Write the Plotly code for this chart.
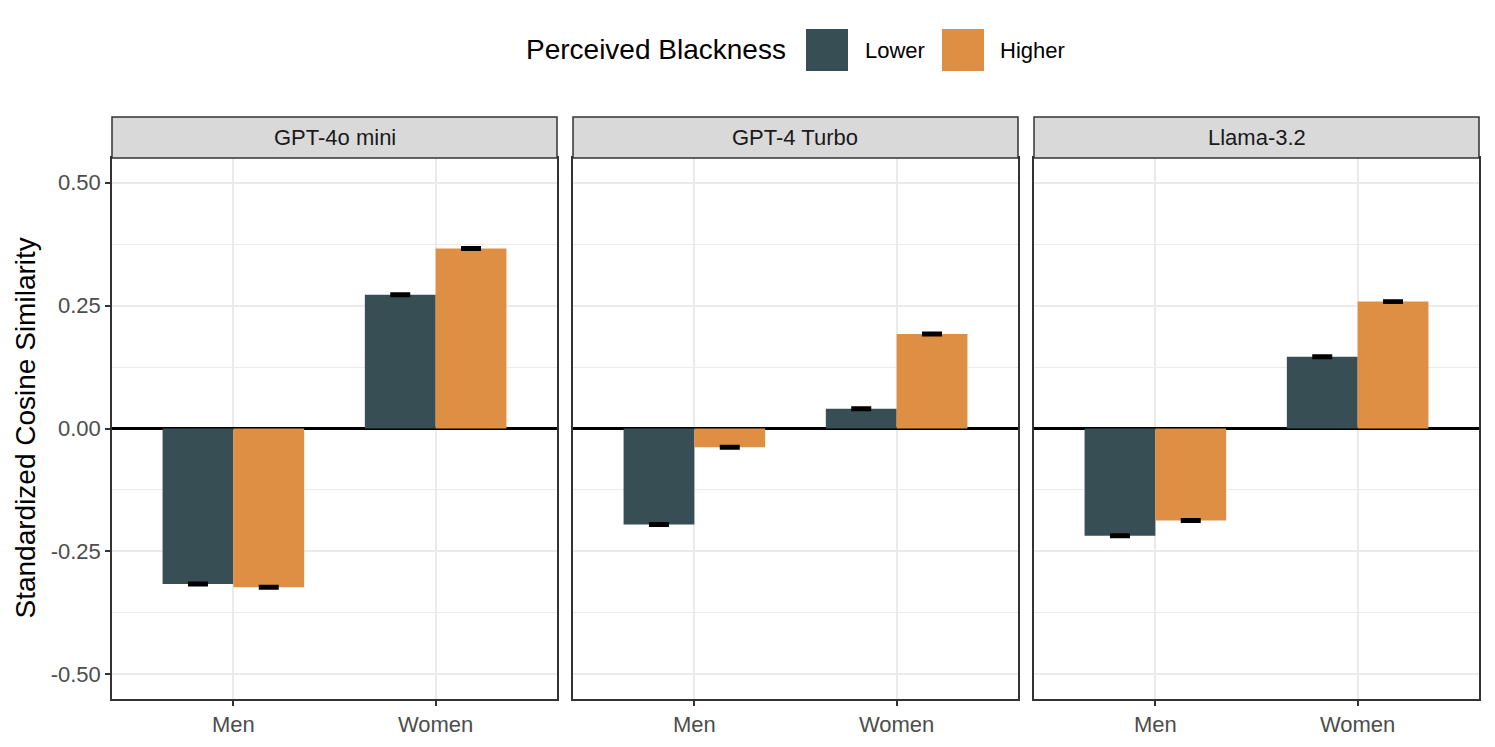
import plotly.graph_objects as go

models = ["GPT-4o mini", "GPT-4 Turbo", "Llama-3.2"]
genders = ["Men", "Women"]
groups = ["Lower", "Higher"]

# values[model] -> [Men, Women]
lower_vals = {
    "GPT-4o mini": [-0.316, 0.272],
    "GPT-4 Turbo": [-0.195, 0.040],
    "Llama-3.2": [-0.218, 0.146],
}
higher_vals = {
    "GPT-4o mini": [-0.323, 0.366],
    "GPT-4 Turbo": [-0.038, 0.192],
    "Llama-3.2": [-0.187, 0.258],
}
lower_err = {
    "GPT-4o mini": [0.002, 0.002],
    "GPT-4 Turbo": [0.002, 0.002],
    "Llama-3.2": [0.002, 0.002],
}
higher_err = {
    "GPT-4o mini": [0.002, 0.002],
    "GPT-4 Turbo": [0.002, 0.002],
    "Llama-3.2": [0.002, 0.002],
}
y_ticks = [-0.5, -0.25, 0.0, 0.25, 0.5]
y_tick_labels = ["-0.50", "-0.25", "0.00", "0.25", "0.50"]

colors = {"Lower": "#374E55", "Higher": "#DF8F44"}
W, H = 1495, 747

panel_px = [(112, 557), (573, 1018), (1034, 1479)]
y_bot_px, y_top_px = 699, 158
strip_top_px = 117

def px_x(p):
    return p / W

def px_y(p):
    return 1 - p / H

fig = go.Figure()

for i, m in enumerate(models):
    xa = "x" if i == 0 else f"x{i+1}"
    ya = "y" if i == 0 else f"y{i+1}"
    for g, vals, errs in (("Lower", lower_vals, lower_err), ("Higher", higher_vals, higher_err)):
        fig.add_trace(go.Bar(
            x=genders, y=vals[m], name=g, xaxis=xa, yaxis=ya,
            marker=dict(color=colors[g], line=dict(width=0)),
            error_y=dict(type="data", array=errs[m], color="black", thickness=3, width=10),
            showlegend=False, offsetgroup=g,
        ))

layout = dict(
    width=W, height=H, margin=dict(l=0, r=0, t=0, b=0),
    paper_bgcolor="white", plot_bgcolor="white",
    barmode="group", bargap=0.3, bargroupgap=0,
    font=dict(family="Liberation Sans, Arial, sans-serif", color="#4D4D4D", size=22),
    showlegend=False,
)

shapes = []
annotations = []
for i, m in enumerate(models):
    xk = "xaxis" if i == 0 else f"xaxis{i+1}"
    yk = "yaxis" if i == 0 else f"yaxis{i+1}"
    x0, x1 = panel_px[i]
    layout[xk] = dict(
        domain=[px_x(x0), px_x(x1)], anchor="y" if i == 0 else f"y{i+1}",
        type="category", range=[-0.6, 1.6],
        showgrid=True, gridcolor="#EBEBEB", gridwidth=2,
        showline=True, mirror=True, linecolor="#333333", linewidth=1.5,
        ticks="outside", ticklen=5, tickwidth=1.5, tickcolor="#333333",
        tickfont=dict(size=22, color="#4D4D4D"), zeroline=False,
    )
    layout[yk] = dict(
        domain=[px_y(y_bot_px), px_y(y_top_px)], anchor="x" if i == 0 else f"x{i+1}",
        range=[-0.55, 0.55], tickvals=y_ticks, ticktext=y_tick_labels,
        showticklabels=(i == 0),
        showgrid=True, gridcolor="#EBEBEB", gridwidth=2,
        minor=dict(dtick=0.125, tick0=0.125, showgrid=True, gridcolor="#EBEBEB", gridwidth=1, ticks=""),
        showline=True, mirror=True, linecolor="#333333", linewidth=1.5,
        ticks="outside" if i == 0 else "", ticklen=5, tickwidth=1.5, tickcolor="#333333",
        tickfont=dict(size=22, color="#4D4D4D"),
        zeroline=True, zerolinecolor="black", zerolinewidth=2.5,
    )
    shapes.append(dict(type="rect", xref="paper", yref="paper",
                       x0=px_x(x0), x1=px_x(x1), y0=px_y(y_top_px), y1=px_y(strip_top_px),
                       fillcolor="#D9D9D9", line=dict(color="#333333", width=1.5), layer="above"))
    annotations.append(dict(xref="paper", yref="paper", x=(px_x(x0) + px_x(x1)) / 2,
                            y=(px_y(y_top_px) + px_y(strip_top_px)) / 2, text=m, showarrow=False,
                            font=dict(size=22, color="#1A1A1A"), xanchor="center", yanchor="middle"))

# y-axis title
annotations.append(dict(xref="paper", yref="paper", x=px_x(25), y=px_y((y_top_px + y_bot_px) / 2),
                        text="Standardized Cosine Similarity", textangle=-90, showarrow=False,
                        font=dict(size=28, color="black"), xanchor="center", yanchor="middle"))

# legend (drawn manually)
annotations.append(dict(xref="paper", yref="paper", x=px_x(524), y=px_y(50), text="Perceived Blackness",
                        showarrow=False, xanchor="left", yanchor="middle", font=dict(size=28, color="black")))
legend_pos = {"Lower": (806, 865), "Higher": (942, 1000)}
for g in groups:
    sx, tx = legend_pos[g]
    shapes.append(dict(type="rect", xref="paper", yref="paper",
                       x0=px_x(sx), x1=px_x(sx + 42), y0=px_y(71), y1=px_y(29),
                       fillcolor=colors[g], line=dict(width=0)))
    annotations.append(dict(xref="paper", yref="paper", x=px_x(tx - 2), y=px_y(51), text=g,
                            showarrow=False, xanchor="left", yanchor="middle",
                            font=dict(size=22, color="black")))

layout["shapes"] = shapes
layout["annotations"] = annotations
fig.update_layout(**layout)
fig.write_html("out.html", config={"displayModeBar": False},
               post_script="document.body.style.margin='0';document.body.style.overflow='hidden';")
